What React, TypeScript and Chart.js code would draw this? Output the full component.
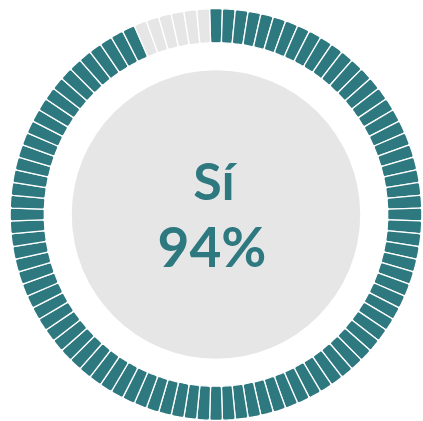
import React, { useEffect, useRef } from "react";
import { Chart, registerables } from "chart.js";

Chart.register(...registerables);

// Data
const segmentCount = 100;
const yesPercent = 94;
const centerLabel = "Sí";
const centerValue = "94%";
const yesColor = "#2e7880";
const restColor = "#e6e6e6";

const segmentValues: number[] = Array.from({ length: segmentCount }, () => 1);
const segmentColors: string[] = segmentValues.map((_, i) =>
  i < Math.round((yesPercent / 100) * segmentCount) ? yesColor : restColor
);

const centerPlugin = {
  id: "centerPlugin",
  beforeDatasetsDraw(chart: any) {
    const meta = chart.getDatasetMeta(0);
    const arc = meta.data[0];
    if (!arc) return;
    const { x, y, innerRadius } = arc.getProps(["x", "y", "innerRadius"], true);
    const ctx = chart.ctx;
    ctx.save();
    ctx.beginPath();
    ctx.arc(x, y, innerRadius * 0.84, 0, Math.PI * 2);
    ctx.fillStyle = "#e6e6e6";
    ctx.fill();
    ctx.restore();
  },
  afterDraw(chart: any) {
    const meta = chart.getDatasetMeta(0);
    const arc = meta.data[0];
    if (!arc) return;
    const { x, y } = arc.getProps(["x", "y"], true);
    const ctx = chart.ctx;
    ctx.save();
    ctx.fillStyle = yesColor;
    ctx.textAlign = "center";
    ctx.textBaseline = "alphabetic";
    ctx.font = "bold 52px Lato";
    ctx.fillText(centerLabel, x - 2, y - 15);
    ctx.font = "bold 55px Lato";
    ctx.fillText(centerValue, x - 4, y + 52);
    ctx.restore();
  },
};

export default function App() {
  const ref = useRef<HTMLCanvasElement>(null);
  useEffect(() => {
    if (!ref.current) return;
    const chart = new Chart(ref.current, {
      type: "doughnut",
      data: {
        labels: segmentValues.map((_, i) => String(i + 1)),
        datasets: [
          {
            data: segmentValues,
            backgroundColor: segmentColors,
            borderColor: "#ffffff",
            borderWidth: 1.3,
            borderRadius: 2,
            spacing: 0,
          },
        ],
      },
      options: {
        responsive: false,
        animation: false,
        rotation: -1.8,
        cutout: "83.4%",
        layout: { padding: { left: 9, top: 8, right: 0, bottom: 0 } },
        plugins: {
          legend: { display: false },
          tooltip: { enabled: false },
          title: { display: false },
        },
      },
      plugins: [centerPlugin],
    });
    return () => chart.destroy();
  }, []);
  return (
    <div style={{ position: "absolute", left: 0, top: 0, width: 423, height: 421, background: "#fff" }}>
      <canvas ref={ref} width={423} height={421} />
    </div>
  );
}
